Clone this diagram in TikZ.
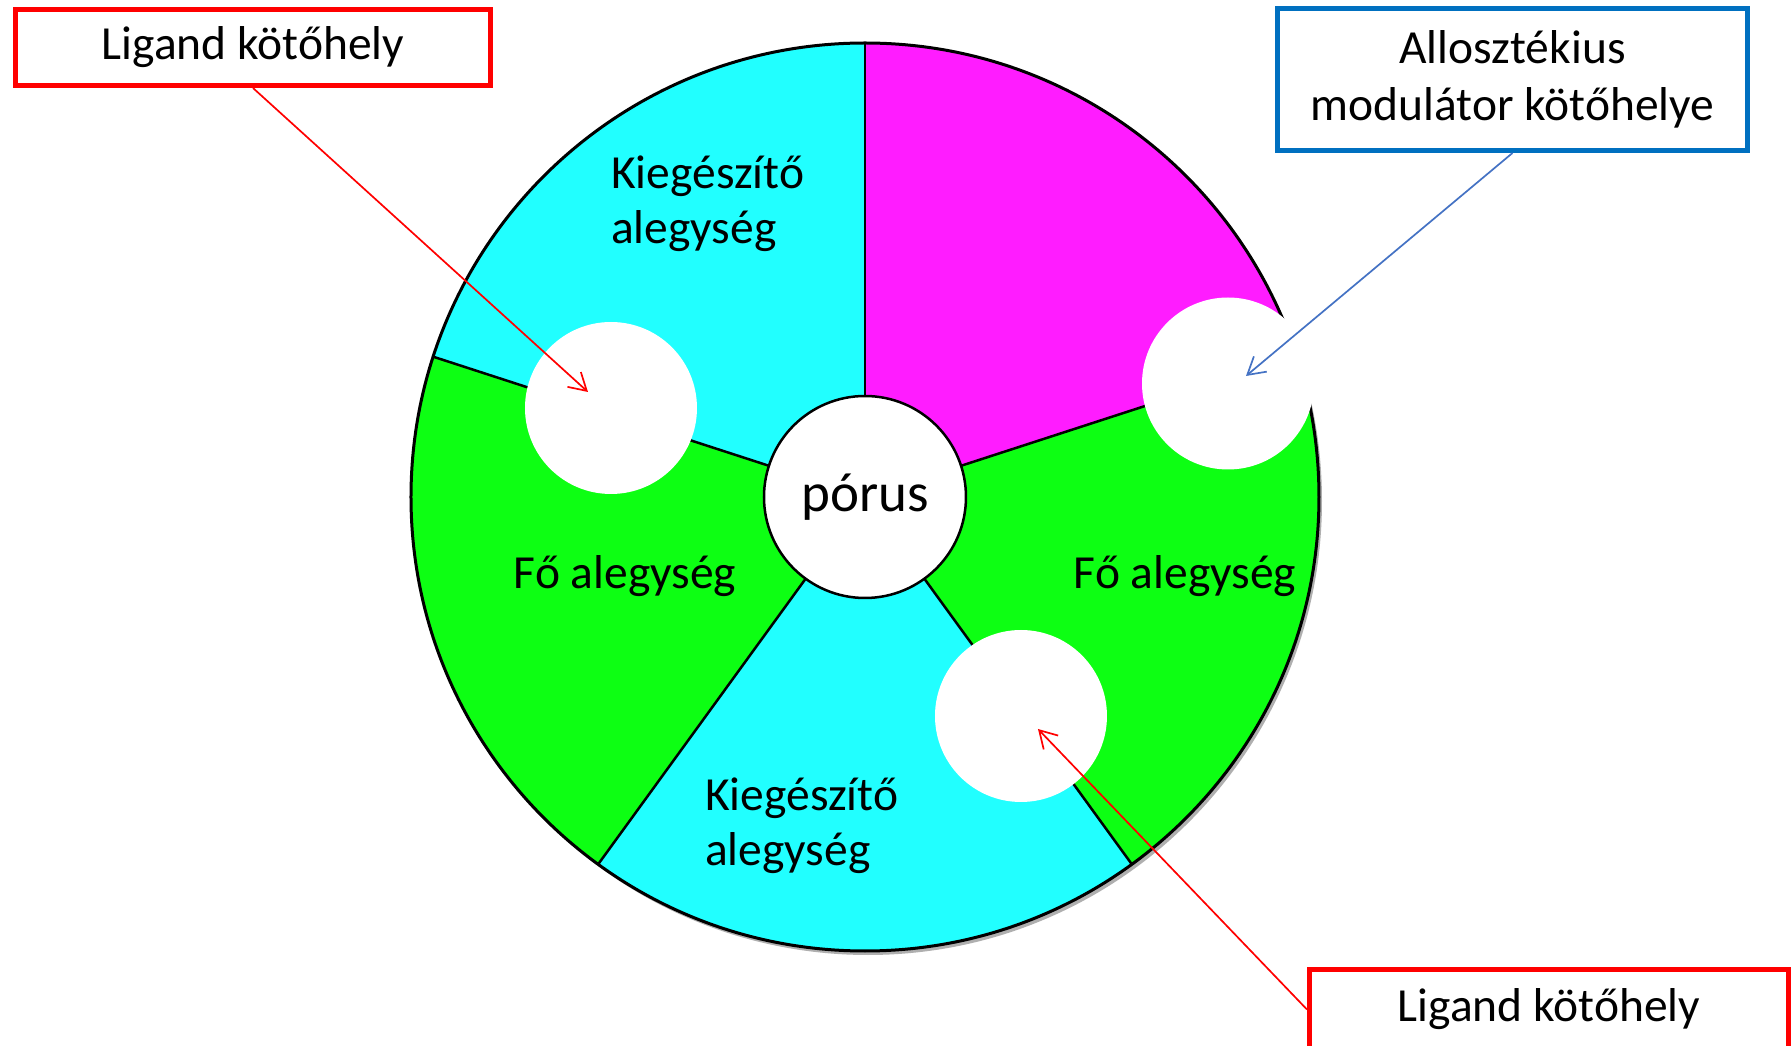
\documentclass[tikz,border=0pt]{standalone}
\usepackage{fontspec}
\setmainfont{Carlito}
\usetikzlibrary{arrows.meta}

\definecolor{subcyan}{RGB}{33,255,255}
\definecolor{submag}{RGB}{255,28,255}
\definecolor{subgreen}{RGB}{13,255,19}
\definecolor{ligred}{RGB}{255,0,0}
\definecolor{modblue}{RGB}{0,112,192}
\definecolor{arrblue}{RGB}{68,114,196}
\definecolor{shadowgray}{RGB}{175,175,175}

\begin{document}
\begin{tikzpicture}[x=1pt,y=1pt,
  lbl/.style={font=\fontsize{47.5}{55}\selectfont, inner sep=0pt},
  callout/.style={draw, line width=5pt, fill=white, minimum width=475pt,
    minimum height=76pt, inner sep=0pt, align=center,
    font=\fontsize{47.5}{57}\selectfont},
  site/.style={circle, fill=white, minimum size=172pt, inner sep=0pt},
  pointer/.style={line width=1.7pt, -{Straight Barb[length=17pt,width=20pt]}},
  divider/.style={line width=2.5pt}
]
\useasboundingbox (-865,-549) rectangle (927,497);
\fill[white] (-865,-549) rectangle (927,497);
\def\R{454}

% drop shadow of the receptor disc
\fill[shadowgray] (3,-4) circle (\R);

% five subunits, 72 degrees each
\fill[submag]   (0,0) -- (18:\R)  arc[start angle=18,  end angle=90,  radius=\R] -- cycle;
\fill[subcyan]  (0,0) -- (90:\R)  arc[start angle=90,  end angle=162, radius=\R] -- cycle;
\fill[subgreen] (0,0) -- (162:\R) arc[start angle=162, end angle=234, radius=\R] -- cycle;
\fill[subcyan]  (0,0) -- (234:\R) arc[start angle=234, end angle=306, radius=\R] -- cycle;
\fill[subgreen] (0,0) -- (306:\R) arc[start angle=306, end angle=378, radius=\R] -- cycle;

\foreach \a in {18,90,162,234,306}
  \draw[divider] (0,0) -- (\a:\R);
\draw[line width=3pt] (0,0) circle (\R);

% central pore
\node[circle, draw, line width=2.5pt, fill=white, minimum size=202pt, inner sep=0pt,
      font=\fontsize{55}{62}\selectfont] (pore) at (0,0) {\raisebox{-5pt}{pórus}};

% binding sites
\node[site] (siteL) at (-254,89) {};
\node[site] (siteR) at (363,113.5) {};
\node[site] (siteB) at (156,-219) {};

% subunit labels
\node[lbl, align=left, anchor=west] (kiegT) at (-254,293) {Kiegészítő\\alegység};
\node[lbl, align=left, anchor=west] (kiegB) at (-160,-328.5) {Kiegészítő\\alegység};
\node[lbl, anchor=base] (foL) at (-240,-92) {Fő alegység};
\node[lbl, anchor=base] (foR) at (320,-92) {Fő alegység};

% callout boxes
\node[callout, draw=ligred] (lig1) at (-612,449.5) {Ligand kötőhely};
\node[callout, draw=modblue, minimum width=470pt, minimum height=142pt] (allo)
      at (647.5,417.5) {Allosztékius\\modulátor kötőhelye};
\node[callout, draw=ligred, minimum width=479pt, minimum height=80pt] (lig2)
      at (684,-512.5) {Ligand kötőhely};

% pointers into the binding sites
\coordinate (tipL) at (-277,105);
\coordinate (tipR) at (381,121);
\coordinate (tipB) at (173,-232);
\draw[pointer, ligred] (lig1.south) -- (tipL);
\draw[pointer, arrblue] (allo.south) -- (tipR);
\draw[pointer, ligred] (lig2.west) -- (tipB);
\end{tikzpicture}
\end{document}
